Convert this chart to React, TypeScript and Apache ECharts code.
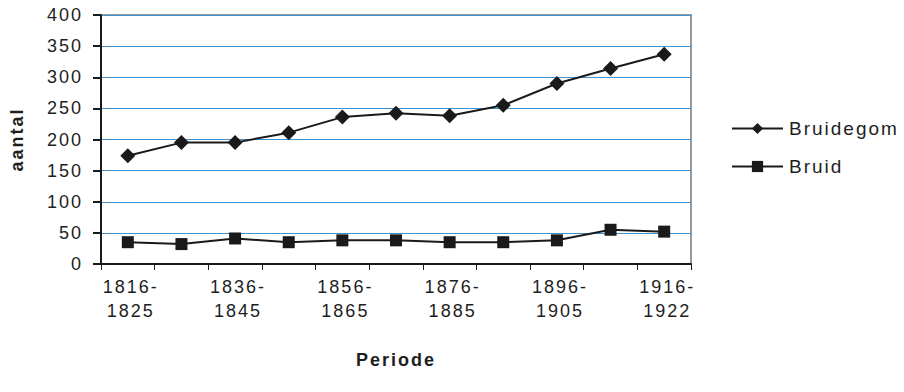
import React, { useEffect, useRef } from "react";
import * as echarts from "echarts";

const categories = [
  "1816-1825", "1826-1835", "1836-1845", "1846-1855", "1856-1865", "1866-1875",
  "1876-1885", "1886-1895", "1896-1905", "1906-1915", "1916-1922",
];
const bruidegom = [174, 195, 195, 211, 236, 242, 238, 255, 290, 314, 337];
const bruid = [35, 32, 41, 35, 38, 38, 35, 35, 38, 55, 52];
const yTicks = { min: 0, max: 400, interval: 50 };

const FONT = "'Liberation Sans', Arial, sans-serif";
const TEXT = "#1e1e1e";
const FS = 18;

export default function App() {
  const ref = useRef<HTMLDivElement>(null);
  useEffect(() => {
    if (!ref.current) return;
    const chart = echarts.init(ref.current, null, { renderer: "svg" });
    chart.setOption({
      animation: false,
      backgroundColor: "#ffffff",
      textStyle: { fontFamily: FONT },
      grid: {
        left: 101,
        right: 213,
        top: 15,
        bottom: 128,
        show: true,
        borderColor: "#9a9a9a",
        borderWidth: 2,
      },
      legend: {
        orient: "vertical",
        left: 726,
        top: 114,
        itemWidth: 51,
        itemHeight: 14,
        itemGap: 19,
        textStyle: { fontSize: 19, color: TEXT, fontFamily: FONT, padding: [0, 0, 0, 1] },
        data: ["Bruidegom", "Bruid"],
      },
      xAxis: {
        type: "category",
        data: categories,
        boundaryGap: true,
        name: "Periode",
        nameLocation: "middle",
        nameGap: 87,
        nameTextStyle: { fontSize: FS, fontWeight: "bold", color: TEXT, fontFamily: FONT },
        axisLine: { lineStyle: { color: "#1a1a1a", width: 2 } },
        axisTick: { show: true, interval: 0, alignWithLabel: false, length: 6, lineStyle: { color: "#1a1a1a", width: 1 } },
        axisLabel: {
          interval: 1,
          margin: 11,
          fontSize: FS,
          lineHeight: 24,
          color: TEXT,
          fontFamily: FONT,
          padding: [0, 0, 0, 6],
          formatter: (v: string) => v.replace("-", "-\n"),
        },
        splitLine: { show: false },
      },
      yAxis: {
        type: "value",
        min: yTicks.min,
        max: yTicks.max,
        interval: yTicks.interval,
        name: "aantal",
        nameLocation: "middle",
        nameGap: 75,
        nameRotate: 90,
        nameTextStyle: { fontSize: FS, fontWeight: "bold", color: TEXT, fontFamily: FONT },
        axisLine: { show: true, lineStyle: { color: "#1a1a1a", width: 2 } },
        axisTick: { show: true, length: 8, lineStyle: { color: "#1a1a1a", width: 2 } },
        axisLabel: { fontSize: FS, color: TEXT, margin: 18, fontFamily: FONT },
        splitLine: { show: true, lineStyle: { color: "#3d93d1", width: 1 } },
      },
      series: [
        {
          name: "Bruidegom",
          type: "line",
          data: bruidegom,
          symbol: "diamond",
          symbolSize: 15,
          itemStyle: { color: "#1a1a1a" },
          lineStyle: { color: "#1a1a1a", width: 2 },
        },
        {
          name: "Bruid",
          type: "line",
          data: bruid,
          symbol: "rect",
          symbolSize: 12,
          itemStyle: { color: "#1a1a1a" },
          lineStyle: { color: "#1a1a1a", width: 2 },
        },
      ],
    });
    return () => chart.dispose();
  }, []);
  return (
    <div style={{ margin: -8 }}>
      <style>{`#chart-root svg text { letter-spacing: 2px; }`}</style>
      <div id="chart-root" ref={ref} style={{ width: 904, height: 392 }} />
    </div>
  );
}
